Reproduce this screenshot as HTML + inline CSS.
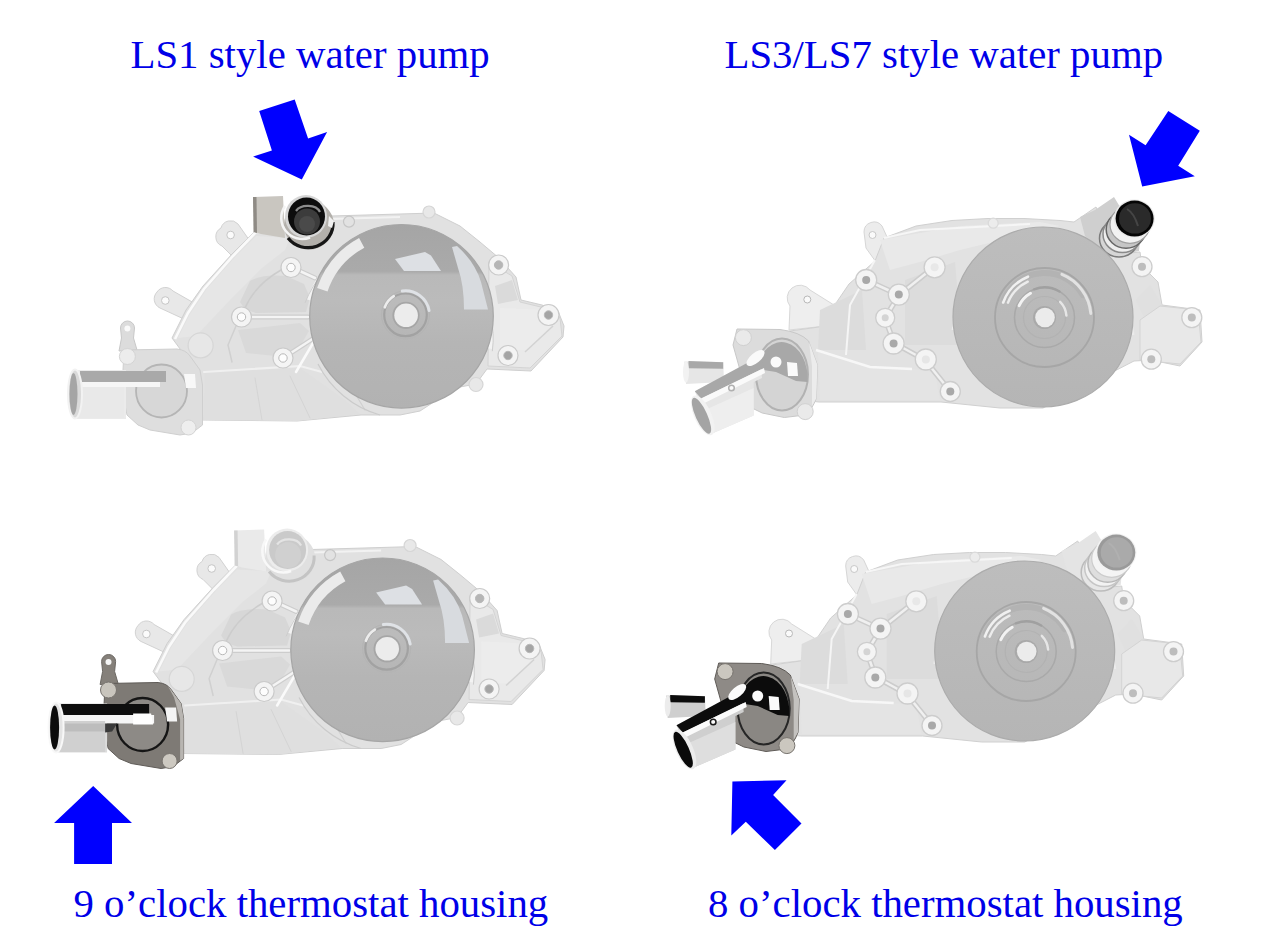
<!DOCTYPE html>
<html><head><meta charset="utf-8">
<style>
html,body{margin:0;padding:0;background:#fff;width:1280px;height:951px;overflow:hidden}
svg{position:absolute;left:0;top:0}
.t{position:absolute;font-family:"Liberation Serif",serif;font-size:40.8px;color:#0000e8;white-space:nowrap;line-height:1}
</style></head><body>
<svg width="1280" height="951" viewBox="0 0 1280 951">
<defs>
  <linearGradient id="pul1g" x1="0" y1="0" x2="0" y2="1">
    <stop offset="0" stop-color="#a5a5a5"/>
    <stop offset="0.255" stop-color="#aaaaaa"/>
    <stop offset="0.275" stop-color="#b9b9b9"/>
    <stop offset="0.42" stop-color="#bbbbbb"/>
    <stop offset="0.65" stop-color="#b5b5b5"/>
    <stop offset="1" stop-color="#b2b2b2"/>
  </linearGradient>
  <linearGradient id="pul3g" x1="0" y1="0" x2="0" y2="1">
    <stop offset="0" stop-color="#bdbdbd"/>
    <stop offset="1" stop-color="#b5b5b5"/>
  </linearGradient>
<g id="ls1body">
  <!-- ear tabs -->
  <path d="M221,228 a10,10 0 0 1 17,-4 L252,244 L236,260 L222,246 a10,10 0 0 1 -1,-18 Z" fill="#e8e8e8" stroke="#d2d2d2" stroke-width="1"/>
  <circle cx="230.6" cy="235" r="3.8" fill="#fbfbfb" stroke="#c6c6c6" stroke-width="1"/>
  <path d="M157,292 a10,10 0 0 1 16,-1 L194,303 L186,320 L160,308 a10,10 0 0 1 -3,-16 Z" fill="#e8e8e8" stroke="#d2d2d2" stroke-width="1"/>
  <circle cx="165.3" cy="300.5" r="3.8" fill="#fbfbfb" stroke="#c6c6c6" stroke-width="1"/>
  <!-- main body -->
  <path d="M254,232 L232,254 L203,286 L186,310 L172,338 L186,357 L200,387 L203,420 L297,421 L361,415 L400,415 L420,411 L440,398 L460,387 L476,384 L487,369 L531,371 L563,337 L564,326 L558,311 L542,305 L521,300 L516,277 L499,258 L480,242 L460,226 L434,213 L400,214 L331,216 L300,222 Z" fill="#e1e1e1" stroke="#cfcfcf" stroke-width="1"/>
  <!-- lighter upper-left face -->
  <path d="M256,236 L236,256 L206,290 L190,314 L178,338 L196,336 L230,300 L262,268 L285,250 L290,238 Z" fill="#e6e6e6"/>
  <!-- recessed pockets -->
  <path d="M250,281 Q262,274 286,276 L304,284 L310,298 L306,312 L256,313 Q244,310 240,302 Z" fill="#d7d7d7"/>
  <path d="M238,330 L300,323 L309,331 L298,350 L276,356 L246,353 Z" fill="#d9d9d9"/>
  <path d="M205,372 L300,368 L345,400 L360,414 L297,421 L203,420 Z" fill="#dfdfdf"/>
  <!-- edge highlight -->
  <path d="M256,232 L233,256 L204,289 L188,313 L175,339" fill="none" stroke="#fafafa" stroke-width="2.6"/>
  <path d="M300,224 L331,219 L400,217" fill="none" stroke="#f2f2f2" stroke-width="2"/>
  <!-- ribs -->
  <g fill="none" stroke-linecap="round">
    <path d="M204,372 L300,366 L322,372" stroke="#f0f0f0" stroke-width="2"/>
    <path d="M291,267 L315,278 M242,317 L308,317 M283,358 L314,338" stroke="#cdcdcd" stroke-width="5"/>
    <path d="M291,267 L315,278 M242,317 L308,317 M283,358 L314,338" stroke="#f4f4f4" stroke-width="2.5"/>
    <path d="M281,270 Q255,285 245,308" stroke="#cccccc" stroke-width="1.5"/>
    <path d="M236,326 L228,345 L232,362" stroke="#d0d0d0" stroke-width="1.5"/>
    <path d="M296,372 L316,338" stroke="#fafafa" stroke-width="2.5"/>
    <path d="M255,378 L262,420 M290,376 L310,418" stroke="#d4d4d4" stroke-width="1"/>
    <path d="M335,360 L365,410" stroke="#d0d0d0" stroke-width="1.2"/>
  </g>
  <!-- right block -->
  <path d="M489,262 L512,276 L520,302 L545,308 L560,318 L562,336 L530,368 L488,366 Z" fill="#e9e9e9" stroke="#d4d4d4" stroke-width="1"/>
  <path d="M495,286 L512,280 L518,300 L498,304 Z" fill="#dadada"/>
  <path d="M500,308 L545,310 L555,322 L528,350 L500,350 Z" fill="#ececec"/>
  <path d="M525,352 L553,326" fill="none" stroke="#d2d2d2" stroke-width="1.5"/>
  <!-- bosses -->
  <g fill="#f4f4f4" stroke="#cacaca" stroke-width="1.2">
    <circle cx="291" cy="267.5" r="10"/>
    <circle cx="241.5" cy="317" r="10"/>
    <circle cx="283" cy="358" r="10"/>
    <circle cx="498.6" cy="265" r="10"/>
    <circle cx="548.5" cy="315" r="10.5"/>
    <circle cx="508" cy="355.5" r="10"/>
    <circle cx="200.6" cy="345.4" r="12.5" fill="#e7e7e7" stroke="#d6d6d6"/>
    <circle cx="429" cy="212" r="6" fill="#e8e8e8" stroke="#d6d6d6"/>
    <circle cx="476" cy="384.5" r="7" fill="#e8e8e8" stroke="#d6d6d6"/>
    <circle cx="349" cy="221.6" r="5.5" fill="#e2e2e2" stroke="#c6c6c6"/>
  </g>
  <g fill="#fdfdfd" stroke="#b8b8b8" stroke-width="1">
    <circle cx="291" cy="267.5" r="4.2"/>
    <circle cx="241.5" cy="317" r="4.2"/>
    <circle cx="283" cy="358" r="4.2"/>
    <circle cx="498.6" cy="265" r="4.2" fill="#b5b5b5"/>
    <circle cx="548.5" cy="315" r="4.2" fill="#a5a5a5"/>
    <circle cx="508" cy="355.5" r="4.2" fill="#a5a5a5"/>
  </g>
</g>
<g id="ls1pul">
  <!-- rim (upper part only) -->
  <path d="M308.6,299.9 A94.3,94.3 0 0 1 490.1,348.6" fill="none" stroke="#f3f3f3" stroke-width="4"/>
  <path d="M305.1,302.8 A97.3,97.3 0 0 1 492.3,351.2" fill="none" stroke="#cdcdcd" stroke-width="1"/>
  <path d="M318,364 A100,100 0 0 0 380,415" fill="none" stroke="#cbcbcb" stroke-width="1.2"/>
  <!-- pulley disc -->
  <circle cx="401.5" cy="316.3" r="91.8" fill="url(#pul1g)" stroke="#a6a6a6" stroke-width="1.2"/>
  <!-- highlights -->
  <path d="M322.3,289.8 A83.5,83.5 0 0 1 361.7,242.9" fill="none" stroke="#ebebeb" stroke-width="11"/>
  <path d="M395,259 L425,252 L431,255.5 L441,271 L404,271 Z" fill="#dde0e4"/>
  <path d="M452,247 L457,246 Q475,262 481,282 L488,309.5 L464,309.5 Q464,285 458,268 Z" fill="#d8dbdf"/>
  <!-- hub -->
  <circle cx="405.5" cy="314.8" r="24" fill="none" stroke="#b4b4b4" stroke-width="1"/>
  <circle cx="405.5" cy="314.8" r="21.3" fill="none" stroke="#a2a2a2" stroke-width="2.2"/>
  <path d="M384.8,307.3 A22,22 0 0 1 393.8,296.1" fill="none" stroke="#ececec" stroke-width="2.6" stroke-linecap="round"/>
  <path d="M402.2,291.0 A24,24 0 0 1 429.1,310.6" fill="none" stroke="#dfe2e6" stroke-width="3" stroke-linecap="round"/>
  <circle cx="406.0" cy="315.3" r="13.6" fill="#a6a6a6"/>
  <circle cx="406.1" cy="315.3" r="11.8" fill="#ececec"/>
</g>
<!-- LS1 outlet dark (top) -->
<g id="ls1out_dark">
  <path d="M253,197 L283,196 L285,238 L261,234 L255,232 Z" fill="#c9c6c0"/>
  <path d="M253,197 L256.5,197 L257,233 L253.5,232 Z" fill="#8f8b85"/>
  <ellipse cx="309" cy="225" rx="25" ry="24.5" fill="#b3b0ab"/>
  <path d="M288,238 A25,24 0 0 0 333,222" fill="none" stroke="#161616" stroke-width="3.2"/>
  <path d="M329,216 L334,221 L332,228 L328,226 Z" fill="#f0f0f0"/>
  <ellipse cx="306" cy="216.5" rx="21" ry="21.5" fill="#d6d6d6"/>
  <ellipse cx="306.5" cy="216.5" rx="18.5" ry="19" fill="#0d0d0d"/>
  <circle cx="307" cy="221.5" r="13" fill="#3c3c3c"/>
  <circle cx="307" cy="224" r="8" fill="#4a4a4a"/>
  <path d="M296,211 A13,9 0 0 1 320,212" fill="none" stroke="#8c8c8c" stroke-width="2.2"/>
  <path d="M285,206 A21,21 0 0 0 310,237.5" fill="none" stroke="#f4f4f4" stroke-width="2.5"/>
</g>
<!-- LS1 outlet faded (bottom) -->
<g id="ls1out_fade">
  <path d="M253,197 L283,196 L285,238 L261,234 L255,232 Z" fill="#eaeaea"/>
  <path d="M253,197 L256.5,197 L257,233 L253.5,232 Z" fill="#d2d2d2"/>
  <ellipse cx="309" cy="225" rx="25" ry="24.5" fill="#e0e0e0"/>
  <path d="M288,238 A25,24 0 0 0 333,222" fill="none" stroke="#c4c4c4" stroke-width="3"/>
  <ellipse cx="306" cy="216.5" rx="21" ry="21.5" fill="#ececec"/>
  <ellipse cx="306.5" cy="216.5" rx="18.5" ry="19" fill="#cacaca"/>
  <circle cx="307" cy="221.5" r="13" fill="#d0d0d0"/>
  <path d="M296,211 A13,9 0 0 1 320,212" fill="none" stroke="#e4e4e4" stroke-width="2.2"/>
  <path d="M285,206 A21,21 0 0 0 310,237.5" fill="none" stroke="#f8f8f8" stroke-width="2.5"/>
</g>
<!-- LS1 thermostat: shapes, colors by class -->
<g id="ls1th_fade">
  <path d="M120.5,328 a7,7 0 0 1 14,0 L133.5,338 L137,350 L119,351 L121.5,338 Z" fill="#dcdcdc" stroke="#c8c8c8" stroke-width="1"/>
  <circle cx="127.4" cy="328.5" r="3" fill="#fafafa"/>
  <path d="M124,350 L177,349 Q186,350 190,356 L200,370 L202.5,385 L202.5,425 L192,433 L180,435 L150,430 L138,425 L127,415 L122,390 Z" fill="#dedede" stroke="#cfcfcf" stroke-width="1"/>
  <ellipse cx="161.5" cy="391" rx="25.5" ry="26.5" fill="#d7d7d7" stroke="#b5b5b5" stroke-width="1.8"/>
  <circle cx="127.4" cy="356.5" r="8" fill="#ececec" stroke="#d4d4d4" stroke-width="1"/>
  <circle cx="188.5" cy="427.5" r="7.5" fill="#eeeeee" stroke="#d4d4d4" stroke-width="1"/>
  <rect x="74" y="370" width="52" height="49" fill="#ebebeb"/>
  <rect x="80" y="371" width="86" height="11" fill="#a9a9a9"/>
  <rect x="80" y="382" width="80" height="5" fill="#f6f6f6"/>
  <rect x="76" y="387" width="48" height="31" fill="#e9e9e9"/>
  <path d="M184,374 L195,374 L196,388 L186,388 Z" fill="#f8f8f8"/>
  <ellipse cx="75" cy="394" rx="7" ry="24.5" fill="#dadada" stroke="#f2f2f2" stroke-width="2"/>
  <ellipse cx="73.5" cy="394" rx="4" ry="21" fill="#a5a5a5"/>
</g>
<g id="ls1th_dark">
  <path d="M120.5,328 a7,7 0 0 1 14,0 L133.5,338 L137,350 L119,351 L121.5,338 Z" fill="#85807a" stroke="#6c6863" stroke-width="1"/>
  <circle cx="127.4" cy="328.5" r="3" fill="#f6f6f6"/>
  <path d="M124,350 L177,349 Q186,350 190,356 L200,370 L202.5,385 L202.5,425 L192,433 L180,435 L150,430 L138,425 L127,415 L122,390 Z" fill="#7e7a75" stroke="#5f5b57" stroke-width="1"/>
  <path d="M186,351 L200,370 L202.5,385 L202.5,425 L199,427 L199,386 L193,364 Z" fill="#b8b5b1"/>
  <ellipse cx="161.5" cy="391" rx="25.5" ry="26.5" fill="#8d8a86" stroke="#151515" stroke-width="2.4"/>
  <circle cx="127.4" cy="356.5" r="8" fill="#c9c5bd" stroke="#77736e" stroke-width="1"/>
  <circle cx="188.5" cy="427.5" r="7.5" fill="#cdc9c1" stroke="#77736e" stroke-width="1"/>
  <rect x="74" y="370" width="52" height="49" fill="#dcdcdc"/>
  <rect x="80" y="370.5" width="88" height="11" fill="#0e0e0e"/>
  <rect x="80" y="381.5" width="93" height="8.5" fill="#f6f6f6"/>
  <rect x="76" y="387.5" width="48" height="31" fill="#d0d0d0"/>
  <rect x="76" y="390" width="48" height="8" fill="#bdbdbd"/>
  <path d="M124,390 L136,390 L131,398 L124,399 Z" fill="#3a3a3a"/>
  <path d="M184,374 L195,374 L196,388 L186,388 Z" fill="#f4f4f4"/>
  <path d="M152,380 L170,380 L172,391 L152,391 Z" fill="#ffffff"/>
  <ellipse cx="75" cy="394" rx="7.5" ry="25" fill="#e4e4e4" stroke="#f8f8f8" stroke-width="2"/>
  <ellipse cx="73.5" cy="394" rx="4.5" ry="22" fill="#0c0c0c"/>
</g>
<g id="ls3body">
  <!-- ear tabs -->
  <path d="M864,232 a10,10 0 0 1 18,-6 L893,250 L876,262 L866,248 Z" fill="#ececec" stroke="#d6d6d6" stroke-width="1"/>
  <circle cx="872.5" cy="235" r="3.5" fill="#fafafa" stroke="#c8c8c8" stroke-width="1"/>
  <path d="M790,306 a12,12 0 0 1 20,-16 L834,305 L826,326 L789,330 Z" fill="#eeeeee" stroke="#d8d8d8" stroke-width="1"/>
  <circle cx="807.3" cy="299.5" r="3.5" fill="#fafafa" stroke="#b8b8b8" stroke-width="1"/>
  <!-- main body -->
  <path d="M1096,207 L1074,222 L1060,220.5 L1024,218.5 L988,218.5 L952,220.5 L916,226 L884,238 L875,261 L849,284 L834,306 L826,326 L790,331 L770,345 L780,398 L819,402 L941,402 L1000,408 L1043,408 L1134,361 L1151,360 L1180,366 L1202,342 L1200,310 L1162,305 L1158,282 L1142,266 L1140,252 L1119,254 Z" fill="#e2e2e2" stroke="#d0d0d0" stroke-width="1"/>
  <!-- inner shaded panels -->
  <path d="M820,310 L862,290 L866,350 L818,350 Z" fill="#dcdcdc"/>
  <path d="M905,280 L955,262 L962,345 L905,345 Z" fill="#dcdcdc"/>
  <path d="M880,240 L960,226 L1040,222 L1060,226 L960,250 L920,262 L890,270 Z" fill="#e9e9e9"/>
  <path d="M818,352 L870,367 L912,369 L935,372 L940,400 L820,400 Z" fill="#e4e4e4"/>
  <path d="M1150,285 L1162,305 L1150,330 L1136,300 Z" fill="#e0e0e0"/>
  <!-- ribs / edges -->
  <path d="M816,350 L870,367 L912,369" fill="none" stroke="#f7f7f7" stroke-width="2.5"/>
  <path d="M875,260 L850,305 L846,355" fill="none" stroke="#f5f5f5" stroke-width="2"/>
  <path d="M866,280 L899,295 L934,267 M899,295 L885,318 L894,343 L925,360 L950,391" fill="none" stroke="#cccccc" stroke-width="5.5" stroke-linejoin="round"/>
  <path d="M866,280 L899,295 L934,267 M899,295 L885,318 L894,343 L925,360 L950,391" fill="none" stroke="#f0f0f0" stroke-width="2.5" stroke-linejoin="round"/>
  <path d="M884,238 L920,230 L1030,224" fill="none" stroke="#f6f6f6" stroke-width="2"/>
  <!-- right block -->
  <path d="M1160,306 L1198,310 L1201,342 L1180,364 L1140,360 L1140,320 Z" fill="#e8e8e8" stroke="#d4d4d4" stroke-width="1"/>
  <!-- bosses -->
  <g fill="#f4f4f4" stroke="#cdcdcd" stroke-width="1.3">
    <circle cx="866.2" cy="280" r="10.5"/>
    <circle cx="898.8" cy="294.6" r="10.5"/>
    <circle cx="934.6" cy="267.3" r="10.5"/>
    <circle cx="885.2" cy="317.8" r="9.5"/>
    <circle cx="893.6" cy="343.5" r="10.5"/>
    <circle cx="925.8" cy="359.5" r="10.5"/>
    <circle cx="950.3" cy="391.5" r="10"/>
    <circle cx="1142" cy="266.7" r="10"/>
    <circle cx="1191.8" cy="317.6" r="10"/>
    <circle cx="1151.3" cy="359.2" r="10"/>
    <circle cx="993.2" cy="223.2" r="5" fill="#ececec" stroke="#dadada"/>
  </g>
  <g fill="#a9a9a9">
    <circle cx="866.2" cy="280" r="4"/>
    <circle cx="898.8" cy="294.6" r="4"/>
    <circle cx="934.6" cy="267.3" r="4" fill="#e8e8e8"/>
    <circle cx="885.2" cy="317.8" r="3.5" fill="#d4d4d4"/>
    <circle cx="893.6" cy="343.5" r="4"/>
    <circle cx="925.8" cy="359.5" r="4" fill="#e6e6e6"/>
    <circle cx="950.3" cy="391.5" r="4"/>
    <circle cx="1142" cy="266.7" r="4" fill="#bdbdbd"/>
    <circle cx="1191.8" cy="317.6" r="4" fill="#bdbdbd"/>
    <circle cx="1151.3" cy="359.2" r="4" fill="#bdbdbd"/>
  </g>
</g>
<g id="ls3pul">
  <path d="M953,330 A91.5,91.5 0 0 1 1133,335" fill="none" stroke="#ececec" stroke-width="3"/>
  <circle cx="1043" cy="317" r="90" fill="url(#pul3g)" stroke="#acacac" stroke-width="1.2"/>
  <path d="M1004.2,298.7 A44.5,44.5 0 0 1 1083.0,295.2" fill="none" stroke="#b3b3b3" stroke-width="6" stroke-linecap="round"/>
  <circle cx="1044.5" cy="317.5" r="49.5" fill="none" stroke="#a6a6a6" stroke-width="1.8"/>
  <path d="M1003.2,302.5 A44,44 0 0 1 1028.0,276.7" fill="none" stroke="#f0f0f0" stroke-width="2.6" stroke-linecap="round"/>
  <path d="M1007.9,302.7 A39.5,39.5 0 0 1 1027.8,281.7" fill="none" stroke="#ececec" stroke-width="2.4" stroke-linecap="round"/>
  <path d="M1061.9,274.4 A46.5,46.5 0 0 1 1090.8,313.4" fill="none" stroke="#e2e2e2" stroke-width="3" stroke-linecap="round"/>
  <circle cx="1044.5" cy="317.5" r="30" fill="none" stroke="#a9a9a9" stroke-width="1.5"/>
  <path d="M1019.1,305.7 A28,28 0 0 1 1030.5,293.3" fill="none" stroke="#f2f2f2" stroke-width="3" stroke-linecap="round"/>
  <path d="M1034.2,289.3 A30,30 0 0 1 1059.5,291.5" fill="none" stroke="#a0a0a0" stroke-width="2.5" stroke-linecap="round"/>
  <circle cx="1044.5" cy="317.5" r="21" fill="none" stroke="#b2b2b2" stroke-width="1.2"/>
  <path d="M1060.1,301.9 A22,22 0 0 1 1066.4,315.6" fill="none" stroke="#e6e6e6" stroke-width="2.5" stroke-linecap="round"/>
  <circle cx="1044.5" cy="317.5" r="11.5" fill="#a9a9a9"/>
  <circle cx="1045.0" cy="317.5" r="9.8" fill="#ebebeb"/>
</g>
<!-- LS3 outlet dark (top) -->
<!-- LS3 outlet -->
<g id="ls3out_dark">
  <path d="M1080,217 L1095,210 L1114,197 L1140,240 L1139,251 L1119,255 L1098,246 L1085,236 Z" fill="#cfcfcf"/>
  <ellipse cx="1119" cy="238.5" rx="19.5" ry="18.5" fill="#d6d6d6" stroke="#7c7c7c" stroke-width="1.5"/>
  <ellipse cx="1122.5" cy="234" rx="19.5" ry="18.5" fill="#eeeeee" stroke="#8a8a8a" stroke-width="1.5"/>
  <ellipse cx="1126" cy="229.5" rx="19.8" ry="18.7" fill="#c6c6c6" stroke="#666666" stroke-width="1.5"/>
  <ellipse cx="1130" cy="224.5" rx="20" ry="18.8" fill="#f2f2f2" stroke="#a0a0a0" stroke-width="1.2"/>
  <ellipse cx="1134.3" cy="218.6" rx="20.5" ry="19" fill="#e8e8e8"/>
  <ellipse cx="1134.6" cy="218.6" rx="19" ry="18" fill="#050505"/>
  <ellipse cx="1135" cy="218.4" rx="16" ry="15.2" fill="#2a2a2a"/>
  <path d="M1127,209 Q1134,213 1138,226" fill="none" stroke="#454545" stroke-width="2"/>
</g>
<g id="ls3out_fade">
  <path d="M1080,217 L1095,210 L1114,197 L1140,240 L1139,251 L1119,255 L1098,246 L1085,236 Z" fill="#e4e4e4"/>
  <ellipse cx="1119" cy="238.5" rx="19.5" ry="18.5" fill="#e6e6e6" stroke="#bcbcbc" stroke-width="1.5"/>
  <ellipse cx="1122.5" cy="234" rx="19.5" ry="18.5" fill="#f2f2f2" stroke="#c6c6c6" stroke-width="1.5"/>
  <ellipse cx="1126" cy="229.5" rx="19.8" ry="18.7" fill="#dedede" stroke="#b8b8b8" stroke-width="1.5"/>
  <ellipse cx="1130" cy="224.5" rx="20" ry="18.8" fill="#f4f4f4" stroke="#cccccc" stroke-width="1.2"/>
  <ellipse cx="1134.3" cy="218.6" rx="20.5" ry="19" fill="#f2f2f2"/>
  <ellipse cx="1134.6" cy="218.6" rx="19" ry="18" fill="#9a9a9a"/>
  <ellipse cx="1135" cy="218.4" rx="16" ry="15.2" fill="#aaaaaa"/>
  <path d="M1127,209 Q1134,213 1138,226" fill="none" stroke="#b0b0b0" stroke-width="2"/>
</g>
<!-- LS3 thermostat -->
<g id="ls3th_fade">
  <path d="M737,329 L780,329.5 Q800,332 808.6,341 L817.4,365 L816.3,398.3 Q812,410 805,415 L784.3,417.5 L762.2,413 L752,408 L740,370 L733,345 Z" fill="#dcdcdc" stroke="#c8c8c8" stroke-width="1"/>
  <path d="M809,342 L817.4,365 L816.3,398.3 L812,406 L812,366 Z" fill="#ececec"/>
  <ellipse cx="782" cy="374.5" rx="26" ry="36" fill="#d4d4d4" stroke="#b2b2b2" stroke-width="2"/>
  <path d="M756.5,369 A26,36 0 0 1 807.5,382 L796,381 L776,372 Z" fill="#a8a8a8"/>
  <circle cx="743.4" cy="337.6" r="8" fill="#eaeaea" stroke="#d0d0d0" stroke-width="1"/>
  <circle cx="805.2" cy="411.6" r="8" fill="#eaeaea" stroke="#d0d0d0" stroke-width="1"/>
  <path d="M684.3,361.5 L723.2,362 L724,382 L686,384 Z" fill="#e6e6e6"/>
  <path d="M688.5,361 L723.2,362.3 L723.2,368.8 L688.5,368.3 Z" fill="#a8a8a8"/>
  <ellipse cx="686" cy="372" rx="3" ry="10.5" fill="#f2f2f2"/>
  <path d="M694.8,391.2 L760,357 L762,378 L753.7,382 L753.7,415.4 L712.7,433.3 Z" fill="#e6e6e6"/>
  <path d="M705,410 L753.7,388 L753.7,415.4 L712.7,433.3 Z" fill="#eeeeee"/>
  <path d="M694.8,391.2 L760,356 L764,368 L701.1,398.6 Z" fill="#a8a8a8"/>
  <path d="M701.1,398.6 L764,368 L765,373 L703.5,403.5 Z" fill="#fafafa"/>
  <ellipse cx="755.5" cy="358" rx="5" ry="11" fill="#fafafa" transform="rotate(50 755.5 358)"/>
  <circle cx="776" cy="362" r="5.5" fill="#fafafa"/>
  <path d="M787,362 L797,363 L798,376 L788,376 Z" fill="#fafafa"/>
  <circle cx="731.5" cy="388" r="2.8" fill="none" stroke="#b0b0b0" stroke-width="1.5"/>
  <ellipse cx="702.8" cy="415.4" rx="8.5" ry="21.5" fill="#f2f2f2" transform="rotate(-24.5 702.8 415.4)"/>
  <ellipse cx="701.5" cy="415.8" rx="5.8" ry="19.5" fill="#a4a4a4" transform="rotate(-24.5 701.5 415.8)"/>
</g>
<g id="ls3th_dark">
  <path d="M737,329 L780,329.5 Q800,332 808.6,341 L817.4,365 L816.3,398.3 Q812,410 805,415 L784.3,417.5 L762.2,413 L752,408 L740,370 L733,345 Z" fill="#8e8a86" stroke="#5f5b57" stroke-width="1"/>
  <path d="M809,342 L817.4,365 L816.3,398.3 L812,406 L812,366 Z" fill="#c4c2bf"/>
  <ellipse cx="782" cy="374.5" rx="26" ry="36" fill="#8a8783" stroke="#262626" stroke-width="2"/>
  <path d="M756.5,369 A26,36 0 0 1 807.5,382 L796,381 L776,372 Z" fill="#0c0c0c"/>
  <circle cx="743.4" cy="337.6" r="8" fill="#cbc7bf" stroke="#77736e" stroke-width="1"/>
  <circle cx="805.2" cy="411.6" r="8" fill="#cbc7bf" stroke="#77736e" stroke-width="1"/>
  <path d="M684.3,361.5 L723.2,362 L724,382 L686,384 Z" fill="#cfcfcf"/>
  <path d="M688.5,361 L723.2,362.3 L723.2,368.8 L688.5,368.3 Z" fill="#0c0c0c"/>
  <ellipse cx="686" cy="372" rx="3" ry="10.5" fill="#ececec"/>
  <path d="M694.8,391.2 L760,357 L762,378 L753.7,382 L753.7,415.4 L712.7,433.3 Z" fill="#cfcfcf"/>
  <path d="M705,410 L753.7,388 L753.7,415.4 L712.7,433.3 Z" fill="#dedede"/>
  <path d="M694.8,391.2 L760,356 L764,368 L701.1,398.6 Z" fill="#0c0c0c"/>
  <path d="M701.1,398.6 L764,368 L765,373 L703.5,403.5 Z" fill="#fbfbfb"/>
  <ellipse cx="755.5" cy="358" rx="5" ry="11" fill="#fbfbfb" transform="rotate(50 755.5 358)"/>
  <circle cx="776" cy="362" r="5.5" fill="#fbfbfb"/>
  <path d="M787,362 L797,363 L798,376 L788,376 Z" fill="#fbfbfb"/>
  <circle cx="731.5" cy="388" r="2.8" fill="none" stroke="#1a1a1a" stroke-width="1.5"/>
  <ellipse cx="702.8" cy="415.4" rx="8.5" ry="21.5" fill="#ececec" transform="rotate(-24.5 702.8 415.4)"/>
  <ellipse cx="701.5" cy="415.8" rx="5.8" ry="19.5" fill="#0a0a0a" transform="rotate(-24.5 701.5 415.8)"/>
</g>

</defs>
<use href="#ls1body"/><use href="#ls1out_dark"/><use href="#ls1pul"/><use href="#ls1th_fade"/>
<g transform="translate(-18.9,333.5)"><use href="#ls1body"/><use href="#ls1out_fade"/><use href="#ls1pul"/><use href="#ls1th_dark"/></g>
<use href="#ls3body"/><use href="#ls3out_dark"/><use href="#ls3pul"/><use href="#ls3th_fade"/>
<g transform="translate(-18.3,334)"><use href="#ls3body"/><use href="#ls3out_fade"/><use href="#ls3pul"/><use href="#ls3th_dark"/></g>
<g fill="#0000ff">
  <polygon points="259.2,111 294.7,99.5 308.1,138.6 327.1,132.1 301.8,179.4 253.1,156.6 271.9,150.5"/>
  <polygon points="1168.3,110.9 1199.8,130.8 1178.2,165.8 1194.8,176.2 1142.2,186.6 1129,134.8 1145.6,145.2"/>
  <polygon points="93.2,786 132,823 112,823 112,863.9 74.1,863.9 74.1,823 54.1,823"/>
  <polygon points="732.4,781.4 786.5,780.2 773.1,794.9 801.5,823.6 774.9,850.1 745.8,821.8 731.3,835.4"/>
</g>
</svg>
<div class="t" style="left:130.5px;top:34.5px">LS1 style water pump</div>
<div class="t" style="left:724.5px;top:34.5px">LS3/LS7 style water pump</div>
<div class="t" style="left:73.5px;top:883.5px">9 o’clock thermostat housing</div>
<div class="t" style="left:708px;top:883.5px">8 o’clock thermostat housing</div>
</body></html>
